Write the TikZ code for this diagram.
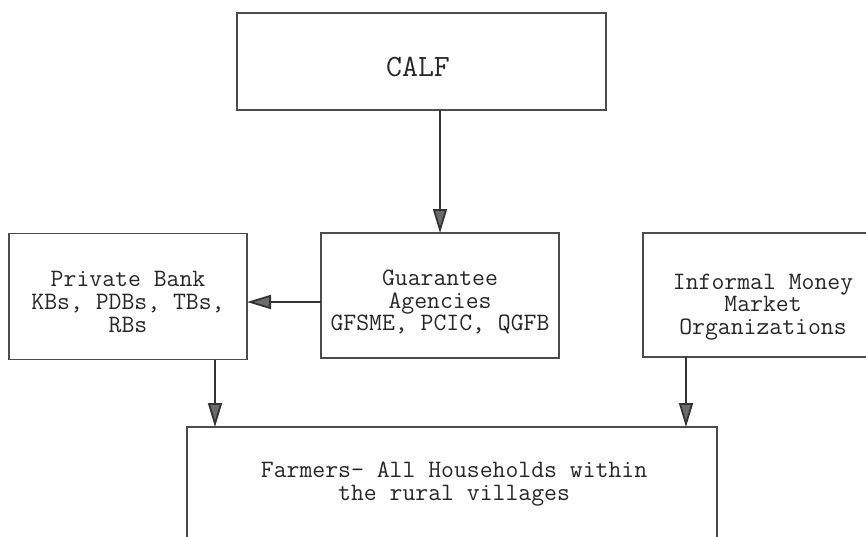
\documentclass[tikz,border=0pt]{standalone}
\usetikzlibrary{arrows.meta}
\definecolor{boxcol}{gray}{0.3}
\definecolor{arrcol}{gray}{0.2}
\definecolor{headcol}{gray}{0.42}
\definecolor{txtcol}{gray}{0.15}
\begin{document}
\begin{tikzpicture}[x=1pt,y=-1pt,
  box/.style={draw=boxcol, line width=1.5pt, rectangle, inner sep=0pt, outer sep=0pt},
  lbl/.style={text=txtcol, align=center, inner sep=0pt, font=\ttfamily\fontsize{25}{22.8}\selectfont},
  conn/.style={draw=arrcol, line width=1.8pt, -{Triangle[length=24pt,width=14pt,fill=headcol]}}]
\useasboundingbox (0,0) rectangle (866,536);
\clip (0,0) rectangle (866,536);
% boxes
\node[box, minimum width=369pt, minimum height=97pt] (calf) at (421.5,61.5) {};
\node[box, minimum width=238pt, minimum height=125pt] (guar) at (440,295.5) {};
\node[box, minimum width=238pt, minimum height=126pt] (priv) at (128,296.5) {};
\node[box, minimum width=242pt, minimum height=124pt] (info) at (764,295) {};
\node[box, minimum width=530pt, minimum height=140pt] (farm) at (452,497) {};
% texts
\node[lbl, font=\ttfamily\fontsize{31}{31}\selectfont] (calft) at (418,67) {CALF};
\node[lbl] (guart) at (440,302) {Guarantee\\Agencies\\GFSME, PCIC, QGFB};
\node[lbl] (privt) at (128,302) {Private Bank\\KBs, PDBs, TBs,\\RBs};
\node[lbl] (infot) at (763,307) {Informal Money\\Market\\Organizations};
\node[lbl] (farmt) at (454,484) {Farmers- All Households within\\the rural villages};
% connectors
\draw[conn] (calf.south -| guar.north) -- (guar.north);
\draw[conn] ([yshift=-6.5pt]guar.west) -- ([yshift=-6.5pt]guar.west -| priv.east);
\draw[conn] ([xshift=87pt]priv.south) -- ([xshift=87pt]priv.south |- farm.north);
\draw[conn] ([xshift=-78pt]info.south) -- ([xshift=-78pt]info.south |- farm.north);
\end{tikzpicture}
\end{document}
